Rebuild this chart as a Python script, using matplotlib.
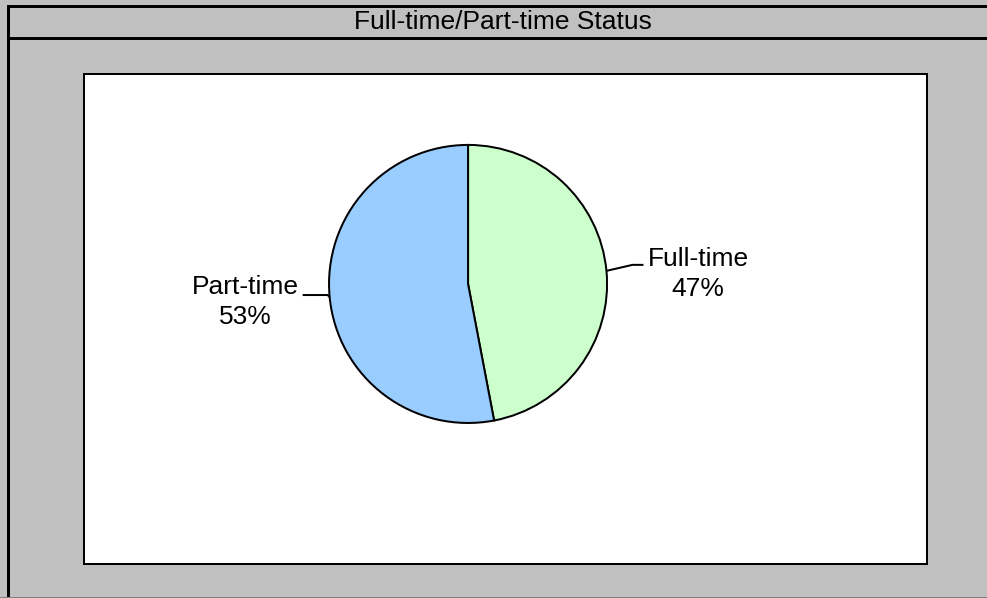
import numpy as np
import matplotlib.pyplot as plt
from matplotlib.patches import Rectangle

# data
labels = ["Full-time", "Part-time"]
shares = [47, 53]
colors = ["#CCFFCC", "#99CCFF"]
title = "Full-time/Part-time Status"

W, H = 987, 598
fig = plt.figure(figsize=(W / 100 + 0.001, H / 100 + 0.001), dpi=100)
fig.patch.set_facecolor("#C0C0C0")
ax = fig.add_axes([0, 0, 1, 1])

px = 72 / 100  # points per pixel
font = ["Liberation Sans", "DejaVu Sans"]

cx, cy, r = 468, H - 284, 139
wedges, _ = ax.pie(shares, colors=colors, startangle=90, counterclock=False,
                   center=(cx, cy), radius=r,
                   wedgeprops=dict(edgecolor="black", linewidth=2 * px))
for w in wedges:
    w.set_zorder(3)
ax.set_xlim(0, W)
ax.set_ylim(0, H)
ax.set_aspect("auto")
ax.axis("off")

# frame lines (y counted from the bottom)
ax.plot([7.5, 7.5], [-5, H - 6], color="black", lw=3 * px)
ax.plot([7.5, W + 10], [H - 6, H - 6], color="black", lw=3 * px)
ax.plot([7.5, W + 10], [H - 38, H - 38], color="black", lw=3 * px)
ax.plot([-5, W + 10], [0.5, 0.5], color="#808080", lw=1 * px)

ax.text(503, H - 22, title, ha="center", va="center", fontsize=19, family=font)

# plot area
ax.add_patch(Rectangle((84, H - 564), 927 - 84, 564 - 74, facecolor="white",
                       edgecolor="black", lw=2 * px, zorder=1))

# labels with leader lines
for w, lab, s in zip(wedges, labels, shares):
    mid = np.deg2rad((w.theta1 + w.theta2) / 2)
    ex, ey = cx + r * np.cos(mid), cy + r * np.sin(mid)
    if np.cos(mid) > 0:
        xs = [ex, ex + 26, ex + 36]
        ys = [ey, ey + 6, ey + 6]
        ax.text(698, ey - 3, f"{lab}\n{s}%", ha="center", va="center",
                fontsize=19, family=font, linespacing=1.28)
    else:
        xs = [ex, ex - 2, ex - 26]
        ys = [ey, ey + 2, ey + 2]
        ax.text(245, ey - 5, f"{lab}\n{s}%", ha="center", va="center",
                fontsize=19, family=font, linespacing=1.28)
    ax.plot(xs, ys, color="black", lw=2 * px, zorder=2)

fig.savefig("out.png", dpi=100, facecolor=fig.get_facecolor())
